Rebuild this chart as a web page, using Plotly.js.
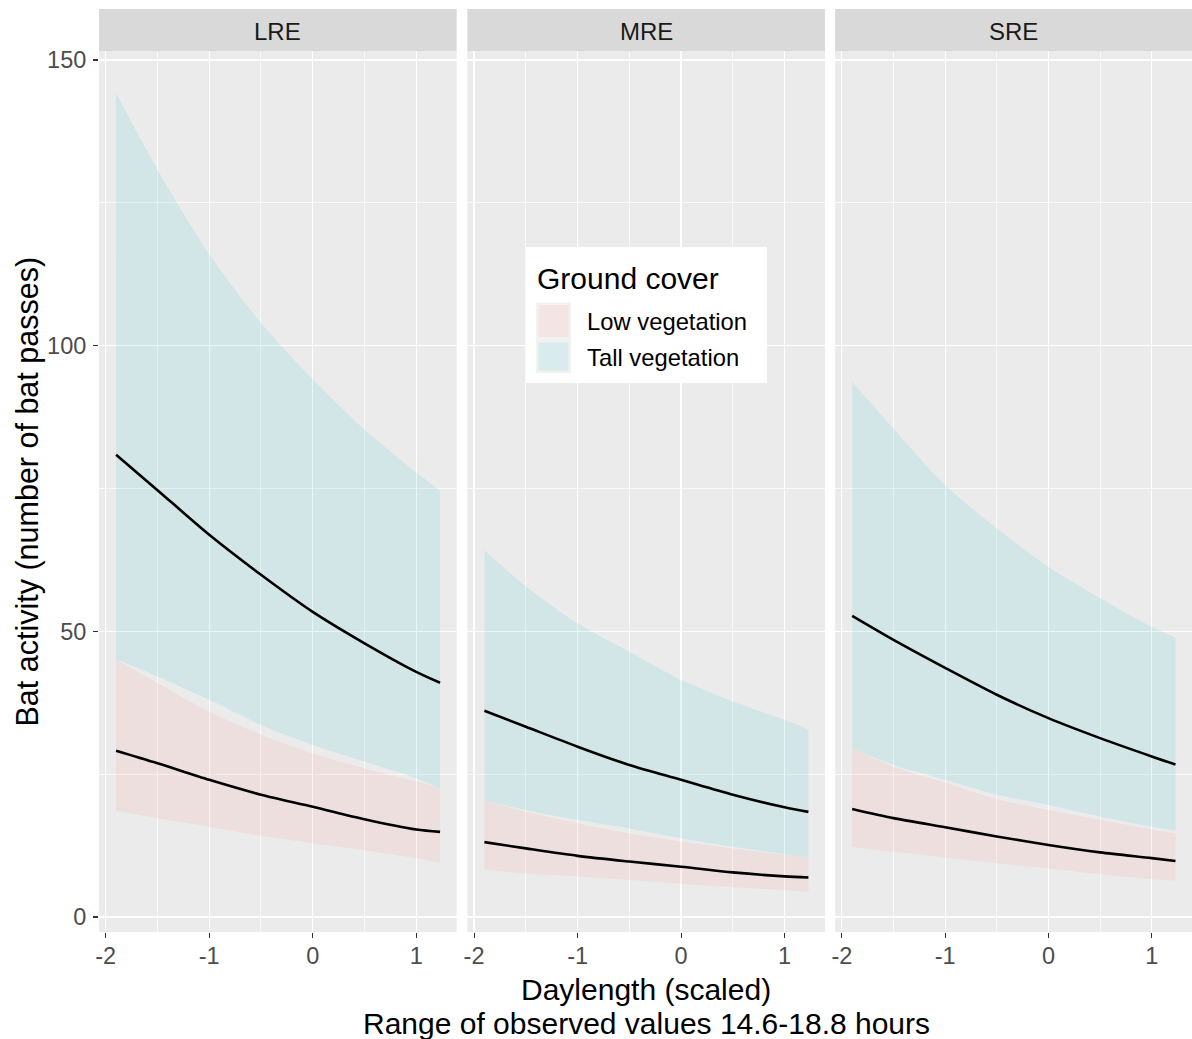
<!DOCTYPE html>
<html>
<head>
<meta charset="utf-8">
<script src="https://cdn.plot.ly/plotly-3.0.1.min.js"></script>
<style>html,body{margin:0;padding:0;background:#fff;}#chart{width:1192px;height:1039px;}</style>
</head>
<body>
<div id="chart"></div>
<script>
// ---- Data ----
const panels = ["LRE", "MRE", "SRE"];
const groups = ["Low vegetation", "Tall vegetation"];
const daylength = [-1.9, -1.5, -1.0, -0.5, 0.0, 0.5, 1.0, 1.23];

// LRE
const lreLowMean  = [29.1, 26.9, 24.0, 21.4, 19.3, 17.1, 15.3, 14.9];
const lreLowLo    = [18.6, 17.3, 15.8, 14.2, 12.9, 11.7, 10.3, 9.5];
const lreLowHi    = [45.1, 40.9, 35.9, 31.9, 28.6, 26.0, 23.7, 22.5];
const lreTallMean = [80.9, 74.7, 66.9, 59.9, 53.4, 47.9, 42.9, 41.0];
const lreTallLo   = [45.1, 42.1, 38.0, 33.6, 30.1, 27.2, 24.3, 22.5];
const lreTallHi   = [144.2, 130.8, 116.0, 104.0, 94.1, 85.3, 77.8, 74.6];
// MRE
const mreLowMean  = [13.1, 12.0, 10.7, 9.7, 8.8, 7.8, 7.1, 6.9];
const mreLowLo    = [8.3, 7.6, 7.1, 6.5, 5.8, 5.2, 4.7, 4.4];
const mreLowHi    = [20.4, 18.4, 16.4, 14.6, 13.2, 12.0, 10.9, 10.3];
const mreTallMean = [36.1, 33.3, 29.8, 26.6, 24.0, 21.4, 19.2, 18.4];
const mreTallLo   = [20.4, 18.7, 17.0, 15.5, 13.8, 12.3, 11.0, 10.4];
const mreTallHi   = [64.2, 57.9, 51.4, 46.4, 41.5, 37.7, 34.5, 32.8];
// SRE
const sreLowMean  = [18.9, 17.3, 15.7, 14.1, 12.6, 11.3, 10.3, 9.8];
const sreLowLo    = [12.3, 11.4, 10.4, 9.4, 8.5, 7.5, 6.6, 6.4];
const sreLowHi    = [29.5, 26.3, 23.5, 20.6, 18.7, 17.0, 15.3, 14.6];
const sreTallMean = [52.7, 48.5, 43.6, 38.9, 34.8, 31.3, 28.1, 26.7];
const sreTallLo   = [29.5, 26.6, 24.0, 21.4, 19.6, 17.6, 15.8, 15.1];
const sreTallHi   = [93.7, 85.5, 75.6, 68.0, 61.3, 55.8, 50.8, 48.9];

const xTickVals = [-2, -1, 0, 1];
const xTickText = ["-2", "-1", "0", "1"];
const yTickVals = [0, 50, 100, 150];
const yTickText = ["0", "50", "100", "150"];

// ---- Styling ----
const FONT = "Liberation Sans, Arial, sans-serif";
const lowFill = "rgba(248,118,109,0.1)";
const tallFill = "rgba(0,191,196,0.1)";

const panelData = [
  {low: [lreLowLo, lreLowMean, lreLowHi], tall: [lreTallLo, lreTallMean, lreTallHi]},
  {low: [mreLowLo, mreLowMean, mreLowHi], tall: [mreTallLo, mreTallMean, mreTallHi]},
  {low: [sreLowLo, sreLowMean, sreLowHi], tall: [sreTallLo, sreTallMean, sreTallHi]}
];

const traces = [];
panelData.forEach((p, i) => {
  const xa = i === 0 ? "x" : "x" + (i + 1);
  const ya = i === 0 ? "y" : "y" + (i + 1);
  [["low", lowFill, groups[0]], ["tall", tallFill, groups[1]]].forEach(([k, col, name]) => {
    const [lo, mean, hi] = p[k];
    traces.push({
      x: daylength, y: lo, xaxis: xa, yaxis: ya, type: "scatter", mode: "lines",
      line: {width: 0, color: "rgba(0,0,0,0)", shape: "spline", smoothing: 0.8},
      showlegend: false, hoverinfo: "skip"
    });
    traces.push({
      x: daylength, y: hi, xaxis: xa, yaxis: ya, type: "scatter", mode: "lines",
      fill: "tonexty", fillcolor: col,
      line: {width: 0, color: "rgba(0,0,0,0)", shape: "spline", smoothing: 0.8},
      name: name, showlegend: false, hoverinfo: "skip"
    });
  });
  ["low", "tall"].forEach(k => {
    traces.push({
      x: daylength, y: p[k][1], xaxis: xa, yaxis: ya, type: "scatter", mode: "lines",
      line: {color: "#000000", width: 2.6, shape: "spline", smoothing: 0.8},
      showlegend: false, hoverinfo: "skip"
    });
  });
});

const domains = [[0, 0.3272], [0.337, 0.6642], [0.6735, 1]];
const xRange = [-2.065, 1.39];
const yRange = [-2.63, 151.57];

const layout = {
  width: 1192, height: 1039,
  margin: {l: 99, r: 0, t: 51, b: 107},
  paper_bgcolor: "#ffffff", plot_bgcolor: "#EBEBEB",
  font: {family: FONT, color: "#000"},
  showlegend: false,
  shapes: [], annotations: []
};

for (let i = 0; i < 3; i++) {
  const sfx = i === 0 ? "" : String(i + 1);
  layout["xaxis" + sfx] = {
    domain: domains[i], range: xRange, anchor: "y" + sfx,
    tickmode: "array", tickvals: xTickVals, ticktext: xTickText,
    ticks: "outside", ticklen: 5, tickwidth: 1.1, tickcolor: "#333333",
    tickfont: {family: FONT, size: 23.5, color: "#4D4D4D"},
    showgrid: true, gridcolor: "#FFFFFF", gridwidth: 1.2,
    minor: {tickmode: "array", tickvals: [-1.5, -0.5, 0.5], showgrid: true, gridcolor: "#FFFFFF", gridwidth: 0.7, ticks: ""},
    zeroline: false, showline: false, fixedrange: true, ticklabelstandoff: -2
  };
  layout["yaxis" + sfx] = {
    domain: [0, 1], range: yRange, anchor: "x" + sfx,
    tickmode: "array", tickvals: yTickVals, ticktext: yTickText,
    ticks: i === 0 ? "outside" : "", ticklen: 5, tickwidth: 1.1, tickcolor: "#333333",
    showticklabels: i === 0,
    tickfont: {family: FONT, size: 23.5, color: "#4D4D4D"},
    showgrid: true, gridcolor: "#FFFFFF", gridwidth: 1.2,
    minor: {tickmode: "array", tickvals: [25, 75, 125], showgrid: true, gridcolor: "#FFFFFF", gridwidth: 0.7, ticks: ""},
    zeroline: false, showline: false, fixedrange: true, ticklabelstandoff: 2
  };
  // facet strip
  layout.shapes.push({
    type: "rect", xref: "x" + sfx + " domain", yref: "paper",
    x0: 0, x1: 1, y0: 1, y1: 1 + 42 / 881,
    fillcolor: "#D9D9D9", line: {width: 0}, layer: "below"
  });
  layout.annotations.push({
    text: panels[i], xref: "x" + sfx + " domain", yref: "paper",
    x: 0.5, y: 1 + 19.5 / 881, xanchor: "center", yanchor: "middle", showarrow: false,
    font: {family: FONT, size: 24, color: "#1A1A1A"}
  });
}

// axis titles
layout.annotations.push({
  text: "Daylength (scaled)", xref: "paper", yref: "paper",
  x: (646 - 99) / 1093, y: (932 - 989) / 881, xanchor: "center", yanchor: "middle",
  showarrow: false, font: {family: FONT, size: 30, color: "#000"}
});
layout.annotations.push({
  text: "Range of observed values 14.6-18.8 hours", xref: "paper", yref: "paper",
  x: (646 - 99) / 1093, y: (932 - 1023) / 881, xanchor: "center", yanchor: "middle",
  showarrow: false, font: {family: FONT, size: 30, color: "#000"}
});
layout.annotations.push({
  text: "Bat activity (number of bat passes)", xref: "paper", yref: "paper",
  x: (27 - 99) / 1093, y: 0.5, xanchor: "center", yanchor: "middle", textangle: -90,
  showarrow: false, font: {family: FONT, size: 30.5, color: "#000"}
});

// manual legend (box, keys, labels)
const px = v => (v - 99) / 1093;
const py = v => (932 - v) / 881;
layout.shapes.push({type: "rect", xref: "paper", yref: "paper", x0: px(526), x1: px(767), y0: py(383), y1: py(247), fillcolor: "#FFFFFF", line: {width: 0}});
layout.shapes.push({type: "rect", xref: "paper", yref: "paper", x0: px(536), x1: px(571), y0: py(340), y1: py(302.5), fillcolor: "#F2F2F2", line: {width: 0}});
layout.shapes.push({type: "rect", xref: "paper", yref: "paper", x0: px(536), x1: px(571), y0: py(373), y1: py(340), fillcolor: "#F2F2F2", line: {width: 0}});
layout.shapes.push({type: "rect", xref: "paper", yref: "paper", x0: px(538.5), x1: px(568.5), y0: py(337), y1: py(305), fillcolor: lowFill, line: {width: 0}});
layout.shapes.push({type: "rect", xref: "paper", yref: "paper", x0: px(538.5), x1: px(568.5), y0: py(370.5), y1: py(342.5), fillcolor: tallFill, line: {width: 0}});
layout.annotations.push({text: "Ground cover", xref: "paper", yref: "paper", x: px(535), y: py(278), xanchor: "left", yanchor: "middle", showarrow: false, font: {family: FONT, size: 30, color: "#000"}});
layout.annotations.push({text: groups[0], xref: "paper", yref: "paper", x: px(585), y: py(322), xanchor: "left", yanchor: "middle", showarrow: false, font: {family: FONT, size: 23.8, color: "#000"}});
layout.annotations.push({text: groups[1], xref: "paper", yref: "paper", x: px(585), y: py(357), xanchor: "left", yanchor: "middle", showarrow: false, font: {family: FONT, size: 23.8, color: "#000"}});

Plotly.newPlot("chart", traces, layout, {staticPlot: true, displayModeBar: false});
</script>
</body>
</html>
